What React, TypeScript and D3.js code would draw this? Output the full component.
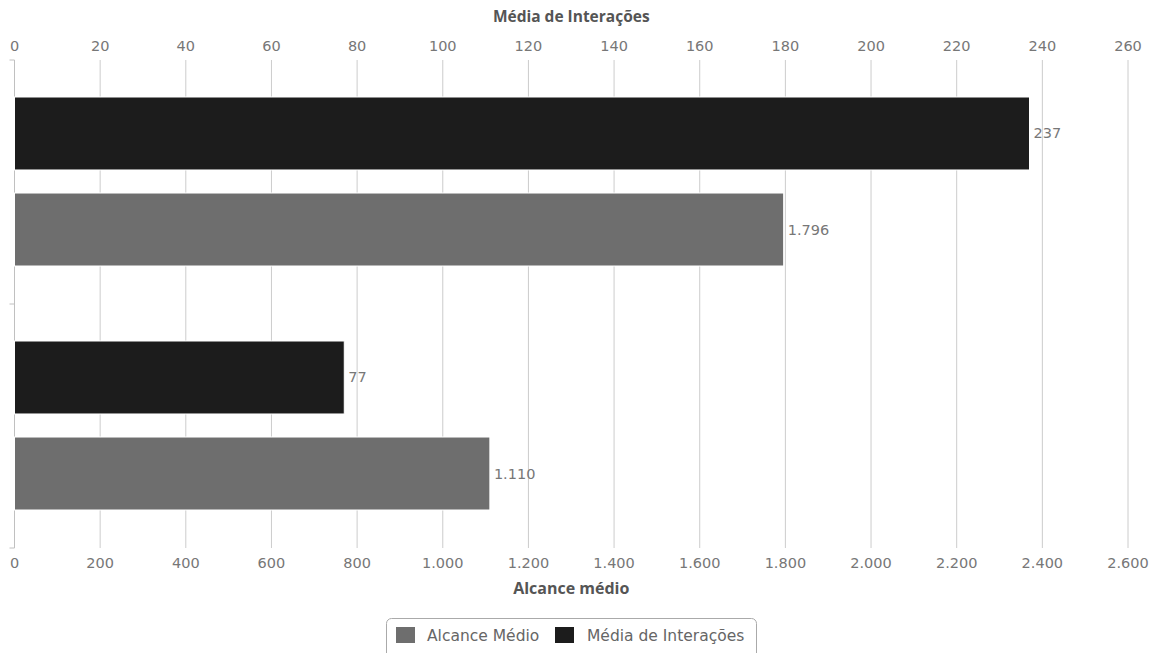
import React from "react";
import * as d3 from "d3";

const categories = ["A", "B"];
const alcanceMedio = [1796, 1110];
const mediaInteracoes = [237, 77];
const bottomTicks = [0, 200, 400, 600, 800, 1000, 1200, 1400, 1600, 1800, 2000, 2200, 2400, 2600];
const topTicks = [0, 20, 40, 60, 80, 100, 120, 140, 160, 180, 200, 220, 240, 260];

const W = 1158, H = 653;
const FONT = "'DejaVu Sans', sans-serif";
const TFONT = "'Open Sans', sans-serif";
const fmt = (v: number) => d3.format(",")(v).replace(/,/g, ".");

export default function App() {
  const left = 14.5, right = 1128;
  const top = 60, bottom = 548;
  const xB = d3.scaleLinear().domain([0, 2600]).range([left, right]);
  const xT = d3.scaleLinear().domain([0, 260]).range([left, right]);
  const y = d3.scaleBand().domain(categories).range([top, bottom]).paddingInner(0).paddingOuter(0);
  const inner = d3.scaleBand().domain(["int", "alc"]).range([37, y.bandwidth() - 38]).paddingInner(0.24).paddingOuter(0);
  const black = "#1c1c1c", gray = "#6e6e6e", textC = "#777";

  return (
    <svg width={W} height={H} style={{ position: "absolute", left: 0, top: 0, background: "#fff" }} fontFamily={FONT}>
      <rect width={W} height={H} fill="#fff" />
      {bottomTicks.map((t) => (
        <line key={"g" + t} x1={xB(t)} x2={xB(t)} y1={top} y2={bottom} stroke="#cccccc" strokeWidth={1} />
      ))}
      <line x1={left} x2={left} y1={top} y2={bottom} stroke="#c0c0c0" />
      {[top, top + y.bandwidth(), bottom].map((v, i) => (
        <line key={"yt" + i} x1={left - 5} x2={left} y1={v} y2={v} stroke="#c0c0c0" />
      ))}
      {topTicks.map((t) => (
        <text key={"tt" + t} x={xT(t)} y={51} textAnchor="middle" fontSize={14.5} fill={textC}>{t}</text>
      ))}
      {bottomTicks.map((t) => (
        <text key={"bt" + t} x={xB(t)} y={568} textAnchor="middle" fontSize={14.5} fill={textC}>{fmt(t)}</text>
      ))}
      <text x={xB(1300)} y={22} textAnchor="middle" fontFamily={TFONT} fontSize={15.5} fontWeight="bold" fill="#555">Média de Interações</text>
      <text x={xB(1300)} y={594} textAnchor="middle" fontFamily={TFONT} fontSize={16} fontWeight="bold" fill="#555">Alcance médio</text>
      {categories.map((c, i) => {
        const y0 = y(c)!;
        const yi = y0 + inner("int")!;
        const ya = y0 + inner("alc")!;
        const bh = inner.bandwidth();
        return (
          <g key={c}>
            <rect x={left} y={yi} width={xT(mediaInteracoes[i]) - left} height={bh} fill={black} stroke="#fff" strokeWidth={1} />
            <text x={xT(mediaInteracoes[i]) + 4} y={yi + bh / 2 + 5} fontSize={14.5} fill={textC}>{mediaInteracoes[i]}</text>
            <rect x={left} y={ya} width={xB(alcanceMedio[i]) - left} height={bh} fill={gray} stroke="#fff" strokeWidth={1} />
            <text x={xB(alcanceMedio[i]) + 4} y={ya + bh / 2 + 5} fontSize={14.5} fill={textC}>{fmt(alcanceMedio[i])}</text>
          </g>
        );
      })}
      <g>
        <rect x={386.5} y={618.5} width={370} height={44} rx={5} fill="#fff" stroke="#aaa" />
        <rect x={396} y={627} width={19} height={16} fill={gray} />
        <text x={427} y={641} fontSize={15.5} fill="#666">Alcance Médio</text>
        <rect x={555} y={627} width={19} height={16} fill={black} />
        <text x={587} y={641} fontSize={15.5} fill="#666">Média de Interações</text>
      </g>
    </svg>
  );
}
